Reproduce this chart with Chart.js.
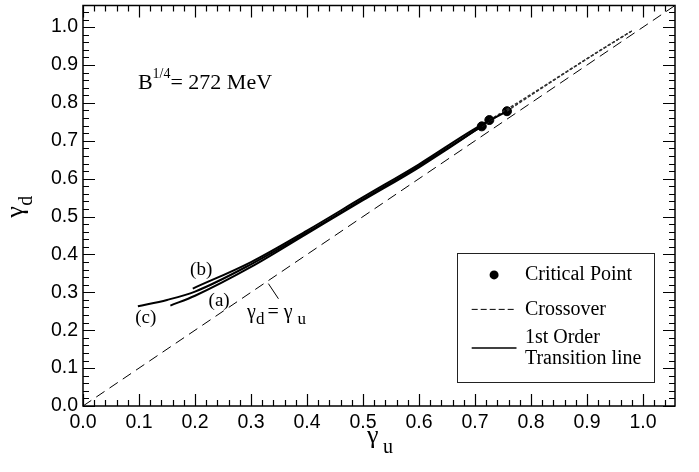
<!DOCTYPE html>
<html>
<head>
<meta charset="utf-8">
<script src="https://cdn.jsdelivr.net/npm/chart.js@4"></script>
<style>
  body { margin: 0; background: #fff; }
  #wrap { width: 699px; height: 472px; }
</style>
</head>
<body>
<div id="wrap"><canvas id="myChart"></canvas></div>
<script>
// axis ticks
const tickValues = [0.0, 0.1, 0.2, 0.3, 0.4, 0.5, 0.6, 0.7, 0.8, 0.9, 1.0];
const axisMax = 1.057;

// first order transition lines (a), (b), (c)
const curveA_u = [0.156, 0.2, 0.3, 0.4, 0.5, 0.6, 0.7, 0.7255];
const curveA_d = [0.265, 0.291, 0.367, 0.455, 0.543, 0.630, 0.727, 0.7547];
const curveB_u = [0.196, 0.3, 0.4, 0.5, 0.6, 0.7, 0.757];
const curveB_d = [0.310, 0.380, 0.463, 0.551, 0.638, 0.732, 0.778];
const curveC_u = [0.098, 0.15, 0.2, 0.3, 0.4, 0.5, 0.6, 0.712];
const curveC_d = [0.263, 0.280, 0.302, 0.374, 0.458, 0.546, 0.634, 0.738];

// crossover lines
const crossA_u = [0.7255, 0.8, 0.9, 0.98];
const crossA_d = [0.7547, 0.823, 0.917, 0.99];
const crossB_u = [0.757, 0.85, 0.93, 0.98];
const crossB_d = [0.778, 0.869, 0.945, 0.99];
const crossC_u = [0.712, 0.8, 0.9, 0.98];
const crossC_d = [0.738, 0.821, 0.916, 0.99];

// critical points
const critical_u = [0.712, 0.7255, 0.757];
const critical_d = [0.738, 0.7547, 0.778];

// gamma_d = gamma_u
const diag_u = [0, axisMax];
const diag_d = [0, axisMax];

const SERIF = "'Liberation Serif', 'Times New Roman', serif";
const SANS = "'Liberation Sans', Arial, sans-serif";

function pts(us, ds) {
  return us.map((u, i) => ({ x: u, y: ds[i] }));
}

function solid(us, ds) {
  return {
    data: pts(us, ds), showLine: true, borderColor: "#000", borderWidth: 2,
    pointRadius: 0, cubicInterpolationMode: "monotone"
  };
}

function cross(us, ds) {
  return {
    data: pts(us, ds), showLine: true, borderColor: "#333", borderWidth: 1.2,
    borderDash: [3, 2], pointRadius: 0, cubicInterpolationMode: "monotone"
  };
}

// frame, inward ticks, titles, labels and legend
const decorations = {
  id: "decorations",
  afterDraw(chart) {
    const ctx = chart.ctx;
    const xs = chart.scales.x, ys = chart.scales.y;
    const a = chart.chartArea;
    const X = v => xs.getPixelForValue(v);
    const Y = v => ys.getPixelForValue(v);
    ctx.save();
    ctx.strokeStyle = "#000";
    ctx.lineWidth = 1.5;
    ctx.strokeRect(a.left, a.top, a.right - a.left, a.bottom - a.top);

    ctx.lineWidth = 1.2;
    ctx.beginPath();
    for (let i = 0; i <= 52; i++) {
      const v = i * 0.02;
      if (v > axisMax) break;
      const major = i % 5 === 0;
      const len = major ? 12 : 6;
      const px = Math.round(X(v)) + 0.5, py = Math.round(Y(v)) + 0.5;
      ctx.moveTo(px, a.bottom); ctx.lineTo(px, a.bottom - len);
      ctx.moveTo(px, a.top); ctx.lineTo(px, a.top + len);
      ctx.moveTo(a.left, py); ctx.lineTo(a.left + len, py);
      ctx.moveTo(a.right, py); ctx.lineTo(a.right - len, py);
    }
    ctx.stroke();

    ctx.fillStyle = "#000";
    ctx.textBaseline = "alphabetic";
    // x title gamma_u
    const cx = (a.left + a.right) / 2;
    ctx.font = "26px " + SERIF;
    ctx.textAlign = "left";
    ctx.fillText("γ", cx - 12, a.bottom + 37);
    ctx.font = "20px " + SERIF;
    ctx.fillText("u", cx + 4, a.bottom + 47);
    // y title gamma_d (rotated)
    ctx.save();
    ctx.translate(a.left - 60, (a.top + a.bottom) / 2);
    ctx.rotate(-Math.PI / 2);
    ctx.font = "26px " + SERIF;
    ctx.fillText("γ", -12, 0);
    ctx.font = "20px " + SERIF;
    ctx.fillText("d", 0, 9);
    ctx.restore();

    // B^1/4 label
    let bx = X(0.098), by = Y(0.836);
    ctx.font = "22px " + SERIF;
    ctx.fillText("B", bx, by);
    bx += ctx.measureText("B").width;
    ctx.font = "14px " + SERIF;
    ctx.fillText("1/4", bx, by - 11);
    bx += ctx.measureText("1/4").width;
    ctx.font = "22px " + SERIF;
    ctx.fillText("= 272 MeV", bx, by);

    // curve labels
    ctx.font = "19px " + SERIF;
    ctx.textAlign = "center";
    ctx.textBaseline = "middle";
    ctx.fillText("(b)", X(0.211), Y(0.358));
    ctx.fillText("(a)", X(0.243), Y(0.278));
    ctx.fillText("(c)", X(0.112), Y(0.231));

    // gamma_d = gamma_u label with pointer
    ctx.lineWidth = 1;
    ctx.beginPath();
    ctx.moveTo(X(0.331), Y(0.323));
    ctx.lineTo(X(0.349), Y(0.283));
    ctx.stroke();
    ctx.textAlign = "left";
    ctx.textBaseline = "alphabetic";
    let gx = X(0.293), gy = Y(0.232);
    ctx.font = "20px " + SERIF;
    ctx.fillText("γ", gx, gy);
    gx += ctx.measureText("γ").width;
    ctx.font = "17px " + SERIF;
    ctx.fillText("d", gx, gy + 6);
    gx += ctx.measureText("d").width + 3;
    ctx.font = "20px " + SERIF;
    ctx.fillText("=", gx, gy);
    gx += ctx.measureText("= ").width;
    ctx.fillText("γ", gx, gy);
    gx += ctx.measureText("γ").width + 5;
    ctx.font = "17px " + SERIF;
    ctx.fillText("u", gx, gy + 6);

    // legend box
    const lx0 = X(0.668), lx1 = X(1.020), ly0 = Y(0.403), ly1 = Y(0.063);
    ctx.fillStyle = "#fff";
    ctx.fillRect(lx0, ly0, lx1 - lx0, ly1 - ly0);
    ctx.strokeStyle = "#222";
    ctx.lineWidth = 1;
    ctx.strokeRect(Math.round(lx0) + 0.5, Math.round(ly0) + 0.5, Math.round(lx1 - lx0), Math.round(ly1 - ly0));
    ctx.fillStyle = "#000";
    ctx.strokeStyle = "#000";
    const sx0 = X(0.694), sx1 = X(0.774), tx = X(0.789);
    ctx.beginPath();
    ctx.arc(X(0.734), Y(0.346), 4.5, 0, Math.PI * 2);
    ctx.fill();
    ctx.setLineDash([6, 3]);
    ctx.beginPath();
    ctx.moveTo(sx0, Y(0.255)); ctx.lineTo(sx1, Y(0.255));
    ctx.stroke();
    ctx.setLineDash([]);
    ctx.lineWidth = 1.5;
    ctx.beginPath();
    ctx.moveTo(sx0, Y(0.153)); ctx.lineTo(sx1, Y(0.153));
    ctx.stroke();
    ctx.font = "20px " + SERIF;
    ctx.textBaseline = "middle";
    ctx.fillText("Critical Point", tx, Y(0.346));
    ctx.fillText("Crossover", tx, Y(0.255));
    ctx.fillText("1st Order", tx, Y(0.180));
    ctx.fillText("Transition line", tx, Y(0.126));
    ctx.restore();
  }
};

new Chart(document.getElementById("myChart").getContext("2d"), {
  type: "scatter",
  data: {
    datasets: [
      {
        data: pts(diag_u, diag_d), showLine: true, borderColor: "#000", borderWidth: 1,
        borderDash: [10, 6], pointRadius: 0
      },
      solid(curveA_u, curveA_d),
      solid(curveB_u, curveB_d),
      solid(curveC_u, curveC_d),
      cross(crossA_u, crossA_d),
      cross(crossB_u, crossB_d),
      cross(crossC_u, crossC_d),
      {
        data: pts(critical_u, critical_d), showLine: false,
        pointRadius: 4.5, pointBackgroundColor: "#000", pointBorderColor: "#000"
      }
    ]
  },
  options: {
    responsive: true,
    maintainAspectRatio: false,
    animation: false,
    layout: { padding: { top: 4, right: 24, left: 0, bottom: 0 } },
    plugins: { legend: { display: false }, tooltip: { enabled: false } },
    scales: {
      x: {
        type: "linear", min: 0, max: axisMax,
        afterBuildTicks: s => { s.ticks = tickValues.map(v => ({ value: v })); },
        afterFit: s => { s.height = 66; s.paddingLeft = 0; s.paddingRight = 0; },
        grid: { display: false, drawTicks: false },
        border: { display: false },
        ticks: {
          callback: v => v.toFixed(1), color: "#000", padding: 5,
          maxRotation: 0, autoSkip: false, font: { family: SANS, size: 19.5 }
        }
      },
      y: {
        type: "linear", min: 0, max: axisMax,
        afterBuildTicks: s => { s.ticks = tickValues.map(v => ({ value: v })); },
        afterFit: s => { s.width = 83; s.paddingTop = 0; s.paddingBottom = 0; },
        grid: { display: false, drawTicks: false },
        border: { display: false },
        ticks: {
          callback: v => v.toFixed(1), color: "#000", padding: 5,
          autoSkip: false, font: { family: SANS, size: 19.5 }
        }
      }
    }
  },
  plugins: [decorations]
});
</script>
</body>
</html>
